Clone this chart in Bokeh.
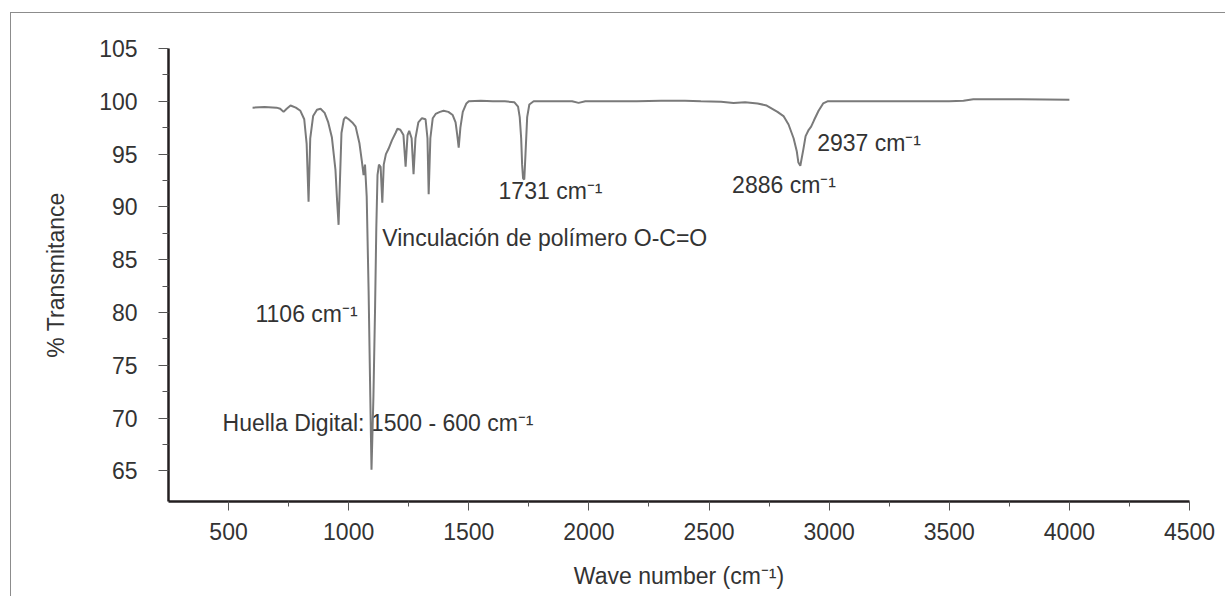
from bokeh.plotting import figure
from bokeh.models import FixedTicker, Range1d, ColumnDataSource
from bokeh.embed import file_html
from bokeh.resources import INLINE
from bokeh.core.properties import value

# ---- data ----
wavenumber = [600, 650, 700, 715, 729, 742, 758, 780, 799, 815, 825, 833, 840, 852, 868, 883,
              900, 915, 930, 945, 952, 958, 963, 970, 980, 987, 1000, 1015, 1029, 1045, 1055,
              1062, 1068, 1075, 1083, 1090, 1095, 1103, 1110, 1115, 1120, 1126, 1133, 1140,
              1146, 1155, 1166, 1180, 1195, 1203, 1215, 1228, 1237, 1245, 1252, 1262, 1270,
              1278, 1290, 1305, 1320, 1328, 1333, 1340, 1350, 1362, 1380, 1395, 1415, 1433,
              1445, 1452, 1458, 1465, 1475, 1490, 1500, 1550, 1600, 1650, 1690, 1705, 1712,
              1718, 1722, 1726, 1731, 1736, 1743, 1752, 1770, 1850, 1930, 1957, 1985, 2100,
              2200, 2300, 2400, 2466, 2550, 2602, 2650, 2702, 2740, 2785, 2810, 2831, 2852,
              2865, 2872, 2880, 2893, 2902, 2915, 2925, 2937, 2956, 2975, 2993, 3100, 3300,
              3500, 3559, 3600, 3800, 4000]
transmittance = [99.4, 99.45, 99.4, 99.3, 99.0, 99.3, 99.6, 99.4, 99.1, 98.3, 96.0, 90.5, 96.5,
                 98.6, 99.2, 99.3, 98.9, 98.0, 96.6, 93.5, 90.5, 88.3, 92.0, 97.0, 98.3, 98.5,
                 98.3, 98.0, 97.6, 96.0, 94.3, 93.0, 94.0, 91.0, 82.0, 72.0, 65.1, 72.0, 80.6,
                 88.0, 93.0, 94.0, 93.8, 90.4, 94.0, 95.0, 95.5, 96.3, 97.0, 97.4, 97.3, 96.8,
                 93.8, 96.8, 97.2, 96.5, 93.1, 96.5, 98.0, 98.4, 98.3, 96.5, 91.2, 96.5, 98.4,
                 98.8, 99.0, 99.1, 99.0, 98.7, 98.0, 96.8, 95.6, 97.5, 99.0, 99.8, 100.0,
                 100.05, 100.0, 100.0, 99.9, 99.5, 98.5, 96.5, 94.0, 92.7, 92.6, 95.0, 98.5,
                 99.7, 100.0, 100.0, 100.0, 99.85, 100.0, 100.0, 100.0, 100.05, 100.05, 100.0,
                 99.95, 99.85, 99.9, 99.8, 99.6, 99.0, 98.6, 97.8, 96.5, 95.3, 94.2, 93.9,
                 95.5, 96.7, 97.3, 97.6, 98.2, 99.1, 99.8, 100.0, 100.0, 100.0, 100.0, 100.05,
                 100.2, 100.2, 100.15]

x_ticks = [500, 1000, 1500, 2000, 2500, 3000, 3500, 4000, 4500]
x_minor = [750, 1250, 1750, 2250, 2750, 3250, 3750, 4250]
y_ticks = [65, 70, 75, 80, 85, 90, 95, 100, 105]
y_minor = [67.5, 72.5, 77.5, 82.5, 87.5, 92.5, 97.5, 102.5]

labels = ["1731 cm\u207b\u00b9", "2886 cm\u207b\u00b9", "2937 cm\u207b\u00b9",
          "Vinculación de polímero O-C=O", "1106 cm\u207b\u00b9",
          "Huella Digital: 1500 - 600 cm\u207b\u00b9"]
label_x = [1624, 2596, 2950, 1140, 612, 475]
label_y = [91.5, 92.07, 96.08, 87.08, 79.85, 69.54]

FONT = "Liberation Sans"
TXT = "#333333"

p = figure(frame_width=1021, frame_height=453,
           x_range=Range1d(250, 4500), y_range=Range1d(62.1, 105),
           output_backend="svg", toolbar_location=None,
           min_border_left=157, min_border_right=36, min_border_top=35, min_border_bottom=95)
p.styles = {"border-top": "1px solid #8c8c8c", "border-left": "1px solid #8c8c8c",
            "margin-left": "10px", "margin-top": "12px"}
p.background_fill_color = "white"
p.border_fill_color = "white"
p.outline_line_color = None
p.grid.visible = False

p.xaxis.ticker = FixedTicker(ticks=x_ticks, minor_ticks=x_minor)
p.yaxis.ticker = FixedTicker(ticks=y_ticks, minor_ticks=y_minor)

for ax in (p.xaxis, p.yaxis):
    ax.axis_line_color = "#231f20"
    ax.axis_line_width = 2.5
    ax.major_tick_line_color = "#555555"
    ax.minor_tick_line_color = "#555555"
    ax.major_tick_in = 0
    ax.minor_tick_in = 0
    ax.major_label_text_font = FONT
    ax.major_label_text_font_size = "23px"
    ax.major_label_text_color = TXT
    ax.axis_label_text_font = FONT
    ax.axis_label_text_font_size = "23px"
    ax.axis_label_text_color = TXT
    ax.axis_label_text_font_style = "normal"

p.xaxis.major_tick_out = 9
p.xaxis.minor_tick_out = 5
p.xaxis.major_label_standoff = 12
p.xaxis.axis_label_standoff = 20
p.xaxis.axis_label = "Wave number (cm\u207b\u00b9)"

p.yaxis.major_tick_out = 10
p.yaxis.minor_tick_out = 6
p.yaxis.major_label_standoff = 21
p.yaxis.axis_label_standoff = 27
p.yaxis.axis_label = "% Transmitance"

src = ColumnDataSource(dict(x=label_x, y=label_y, t=labels))
p.text(x="x", y="y", text="t", source=src, text_font=value(FONT), text_font_size="23px",
       text_color=TXT, text_baseline="middle", text_align="left")

p.line(wavenumber, transmittance, line_color="#7a7a7a", line_width=2)

open("out.html", "w").write(file_html(p, INLINE))
